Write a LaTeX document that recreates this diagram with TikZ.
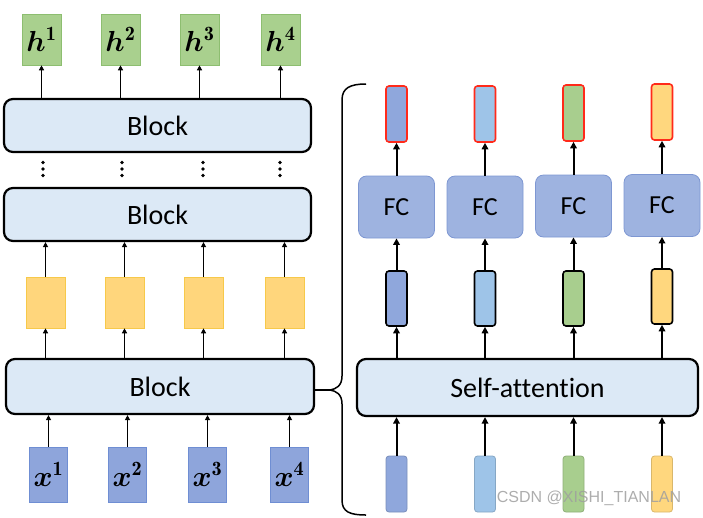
\RequirePackage{fix-cm}
\documentclass[tikz,border=0pt]{standalone}
\usepackage{amsmath,bm}
\usepackage{fontspec}
\newfontfamily\carlito{Carlito}[Ligatures=NoCommon]
\newfontfamily\wmfont{Liberation Sans}
\usetikzlibrary{arrows.meta}
\definecolor{blockfill}{HTML}{DCE9F6}
\definecolor{hfill}{HTML}{A9D08E}
\definecolor{hdraw}{HTML}{8DBE70}
\definecolor{yfill}{HTML}{FFD67C}
\definecolor{ydraw}{HTML}{F7C94A}
\definecolor{xfill}{HTML}{8EA5DB}
\definecolor{xdraw}{HTML}{6F8ED3}
\definecolor{fcfill}{HTML}{9EB3E0}
\definecolor{fcdraw}{HTML}{7E97D2}
\definecolor{cdblue}{HTML}{8FA7DC}
\definecolor{clblue}{HTML}{9EC4E8}
\definecolor{cgreen}{HTML}{A8CE8E}
\definecolor{cyellow}{HTML}{FFD77E}
\definecolor{redline}{HTML}{FF2A1A}
\tikzset{
  blockbox/.style={draw=black, line width=2.2pt, rounded corners=9pt, fill=blockfill,
    font=\carlito\fontsize{28}{30}\selectfont, inner sep=0pt},
  hbox/.style={draw=hdraw, line width=0.6pt, fill=hfill, minimum width=39pt, minimum height=51pt, inner sep=0pt,
    font=\fontsize{29}{31}\selectfont},
  ybox/.style={draw=ydraw, line width=0.6pt, fill=yfill, minimum width=39pt, minimum height=51pt, inner sep=0pt},
  xbox/.style={draw=xdraw, line width=0.6pt, fill=xfill, minimum width=38pt, minimum height=55pt, inner sep=0pt,
    font=\fontsize{29}{31}\selectfont},
  fcbox/.style={draw=fcdraw, line width=0.8pt, fill=fcfill, rounded corners=8pt, minimum width=76pt, minimum height=62pt,
    inner sep=0pt, font=\carlito\fontsize{26}{28}\selectfont},
  vecbox/.style={draw=black, line width=1.6pt, rounded corners=3pt, minimum width=21pt, minimum height=55pt, inner sep=0pt},
  redbox/.style={draw=redline, line width=1.6pt, rounded corners=3pt, minimum width=21pt, minimum height=56pt, inner sep=0pt},
  inbox/.style={line width=0.8pt, rounded corners=3pt, minimum width=21pt, minimum height=56pt, inner sep=0pt},
  arr/.style={-{Triangle[length=5pt,width=5pt]}, line width=1.5pt},
  arrb/.style={-{Triangle[length=6.5pt,width=6.5pt]}, line width=2pt},
}
\begin{document}
\begin{tikzpicture}[x=1pt,y=-1pt]
\useasboundingbox (0,0) rectangle (703,517);
% ---------------- left column ----------------
\node[blockbox, minimum width=307pt, minimum height=53pt] (b1) at (157.5,125.5) {Block};
\node[blockbox, minimum width=307pt, minimum height=53pt] (b2) at (157.5,214.5) {Block};
\node[blockbox, minimum width=308pt, minimum height=55pt] (b3) at (160,386.5) {Block};

\foreach \i/\cx in {1/41.5,2/120.5,3/199.5,4/280.5}{
  \node[hbox] (h\i) at (\cx,39.5) {$\bm{h}^{\mathbf{\i}}$};
  \draw[arr] (h\i.south |- b1.north) -- (h\i.south);
}
\foreach \i/\cx in {1/43,2/122,3/203,4/280}{
  \foreach \dy in {162.5,169,175.5}{
    \fill (\cx,\dy) circle (1.9pt);
  }
}
\foreach \i/\cx in {1/45.5,2/124.5,3/203.5,4/284.5}{
  \node[ybox] (y\i) at (\cx,302.5) {};
  \draw[arr] (y\i.north) -- (y\i.north |- b2.south);
  \draw[arr] (y\i.south |- b3.north) -- (y\i.south);
}
\foreach \i/\cx in {1/48.5,2/127.5,3/207.5,4/289.5}{
  \node[xbox] (x\i) at (\cx,474.5) {$\bm{x}^{\mathbf{\i}}$};
  \draw[arr] (x\i.north) -- (x\i.north |- b3.south);
}
% ---------------- brace ----------------
\coordinate (tip) at (330,390);
\draw[line width=1.5pt] (b3.east |- tip) -- (tip);
\draw[line width=1.5pt] (366,84) .. controls (350,84) and (342,88) .. (342,100) -- (342,376)
  .. controls (342,386) and (336,389) .. (tip) .. controls (336,391) and (342,394) .. (342,404)
  -- (342,500) .. controls (342,512) and (350,515) .. (366,515);
% ---------------- right column ----------------
\node[blockbox, minimum width=341pt, minimum height=57pt] (sa) at (527.5,387.5) {Self-attention};
\foreach \i/\cx/\col/\fy/\my/\ry in {1/396.5/cdblue/207/298.5/114,2/485/clblue/207/298.5/114,3/573.5/cgreen/206/298.5/113,4/662/cyellow/205.5/296.5/112}{
  \node[inbox, fill=\col, draw=\col!85!black] (in\i) at (\cx,484) {};
  \node[vecbox, fill=\col] (v\i) at (\cx,\my) {};
  \node[fcbox] (fc\i) at (\cx,\fy) {FC};
  \node[redbox, fill=\col] (r\i) at (\cx,\ry) {};
  \draw[arrb] (in\i.north) -- (in\i.north |- sa.south);
  \draw[arrb] (v\i.south |- sa.north) -- (v\i.south);
  \draw[arrb] (v\i.north) -- (v\i.north |- fc\i.south);
  \draw[arrb] (r\i.south |- fc\i.north) -- (r\i.south);
}
% ---------------- watermark ----------------
\node[text=gray!75, opacity=0.85, font=\wmfont\fontsize{16}{18}\selectfont, inner sep=0pt] (wm) at (589,498) {CSDN @XISHI\_TIANLAN};
\end{tikzpicture}
\end{document}
